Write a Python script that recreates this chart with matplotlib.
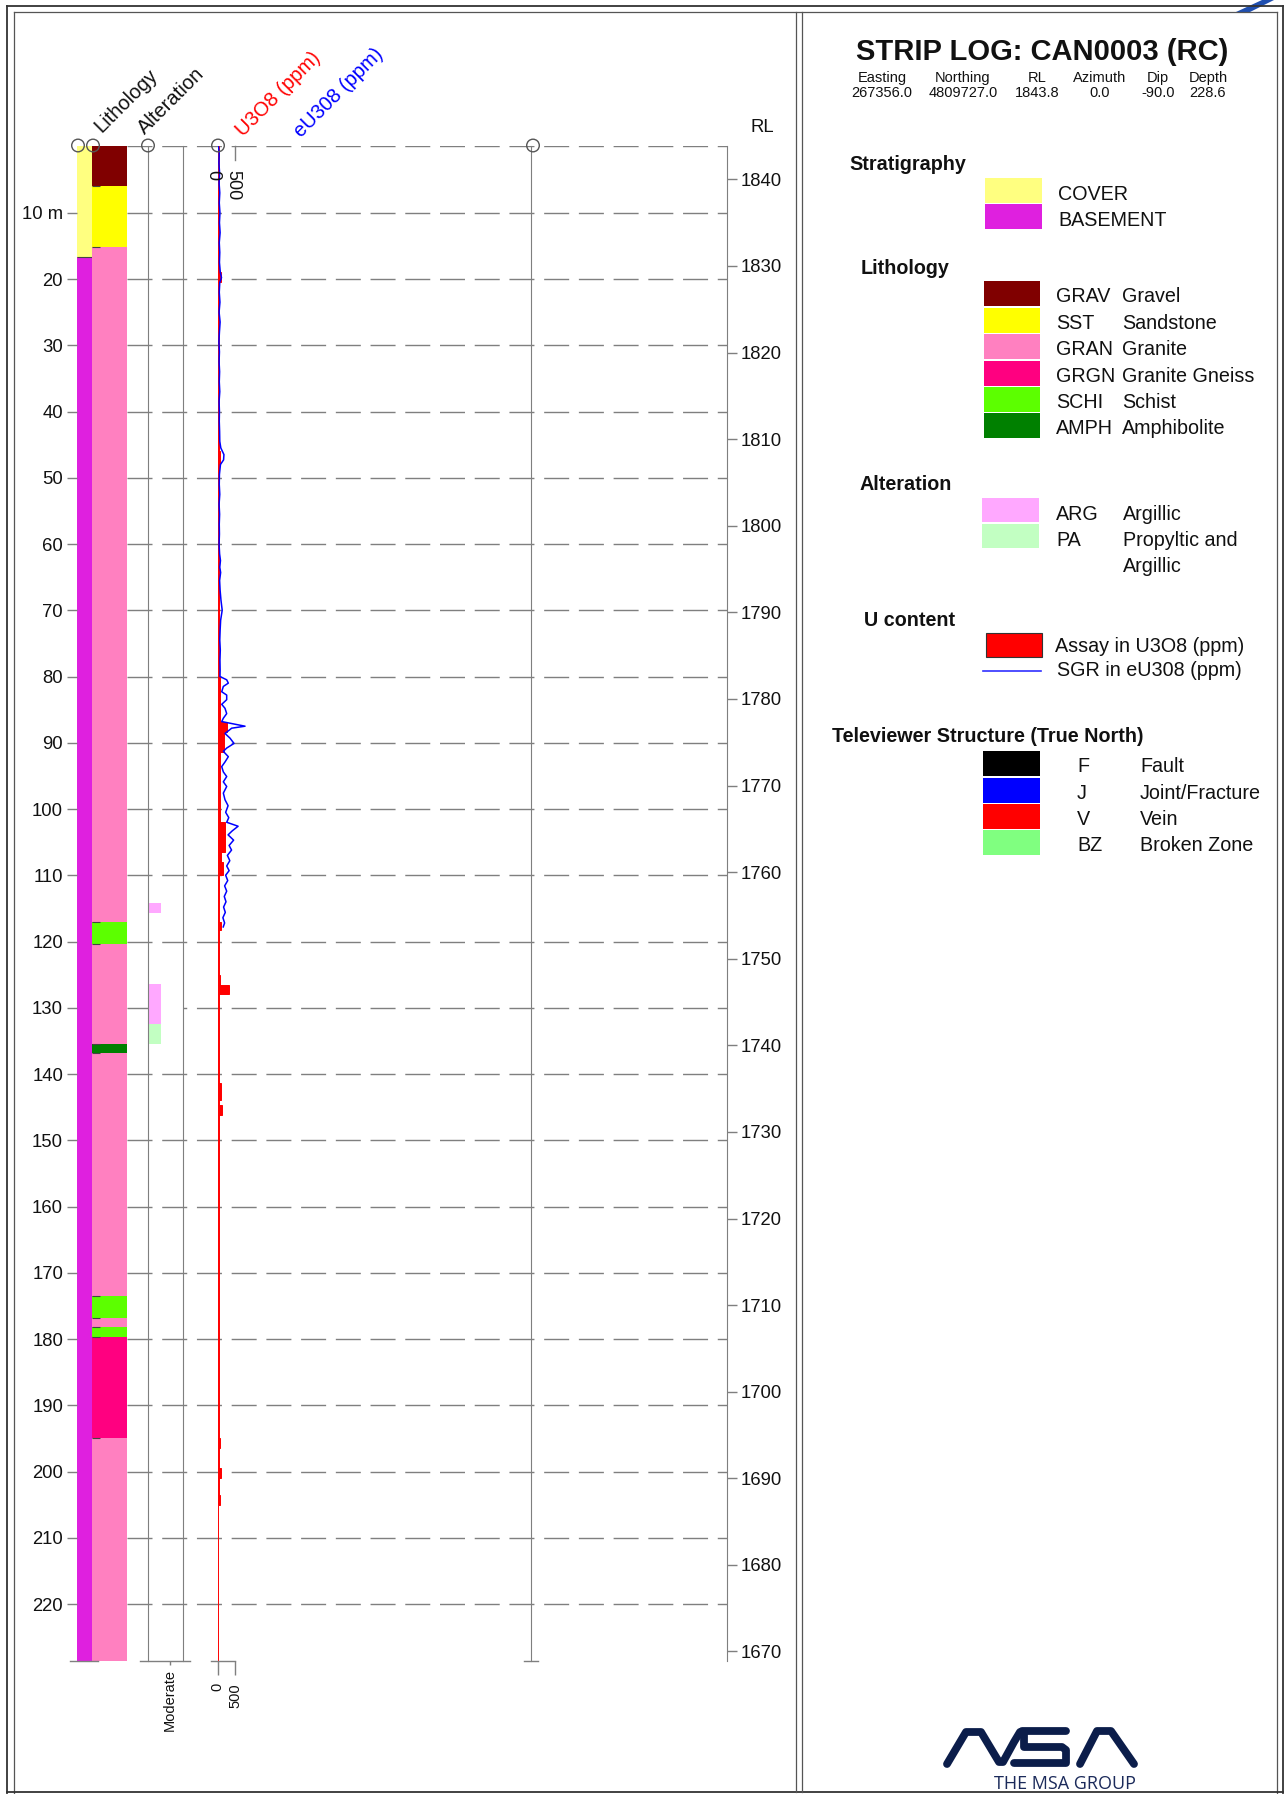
import matplotlib
matplotlib.use("Agg")
import matplotlib.pyplot as plt
from matplotlib.patches import Rectangle, Circle, Polygon

plt.rcParams['font.family'] = ['Liberation Sans', 'DejaVu Sans']

# figure size in pixels (dpi 100)
W, H = 1286, 1794
TOP_PX, BOT_PX = 146.5, 1661.0

# ---- collar info
hole_title = "STRIP LOG: CAN0003 (RC)"
collar_labels = ["Easting", "Northing", "RL", "Azimuth", "Dip", "Depth"]
collar_values = ["267356.0", "4809727.0", "1843.8", "0.0", "-90.0", "228.6"]
max_depth = 228.6
rl_top = 1843.8
rl_bottom = 1668.9

depth_ticks = [10, 20, 30, 40, 50, 60, 70, 80, 90, 100, 110, 120, 130, 140,
               150, 160, 170, 180, 190, 200, 210, 220]
depth_labels = ["10 m"] + [str(d) for d in depth_ticks[1:]]
grid_depths = [0] + depth_ticks
rl_ticks = [1840, 1830, 1820, 1810, 1800, 1790, 1780, 1770, 1760, 1750, 1740,
            1730, 1720, 1710, 1700, 1690, 1680, 1670]

# ---- stratigraphy
strat_from = [0.0, 16.7]
strat_to = [16.7, 228.6]
strat_code = ["COVER", "BASEMENT"]

# ---- lithology
litho_from = [0.0, 6.0, 15.2, 117.1, 120.4, 135.4, 136.9, 173.5, 176.8, 178.2, 179.7, 195.0]
litho_to = [6.0, 15.2, 117.1, 120.4, 135.4, 136.9, 173.5, 176.8, 178.2, 179.7, 195.0, 228.6]
litho_code = ["GRAV", "SST", "GRAN", "SCHI", "GRAN", "AMPH", "GRAN", "SCHI",
              "GRAN", "SCHI", "GRGN", "GRAN"]

# ---- alteration (intensity)
alt_from = [114.2, 126.4, 132.4]
alt_to = [115.7, 132.4, 135.4]
alt_code = ["ARG", "ARG", "PA"]
alt_intensity = [1.2, 1.2, 1.2]

# ---- U3O8 assays (ppm)
u_from = [0, 19, 20.5, 45.9, 47.9, 80, 86.9, 88.4, 91.4, 101.9, 106.5, 108, 110,
          117, 118.3, 125, 126.6, 127.9, 141.4, 143.9, 144.7, 146.2, 195, 196.5,
          199.5, 201, 203.5, 205]
u_to = [19, 20.5, 45.9, 47.9, 80, 86.9, 88.4, 91.4, 101.9, 106.5, 108, 110, 117,
        118.3, 125, 126.6, 127.9, 141.4, 143.9, 144.7, 146.2, 195, 196.5, 199.5,
        201, 203.5, 205, 228.6]
u_ppm = [30, 90, 30, 70, 25, 70, 260, 190, 60, 200, 90, 150, 50, 100, 30, 60, 340,
         30, 90, 30, 110, 25, 80, 25, 100, 25, 70, 20]

# ---- SGR eU3O8 (ppm)
sgr_depth = [0, 1, 2.5, 4, 5.5, 7, 8.5, 10, 11.5, 13, 14.5, 16, 17.5, 19, 19.8, 20.5,
             22, 23.5, 25, 26.5, 28, 29.5, 31, 32.5, 34, 35.5, 37, 38.5, 40, 41.5,
             43, 44.5, 45.5, 46.5, 47.3, 48, 49.5, 51, 52.5, 54, 55.5, 57, 58.5, 60,
             61.5, 62.5, 63.5, 64.3, 65.5, 67, 68.5, 70, 71.5, 73, 74.5, 76, 77.5,
             79, 80, 80.5, 81, 81.5, 82.3, 82.8, 83.5, 84.2, 84.8, 85.6, 86.3, 86.8,
             87.2, 87.5, 87.8, 88.6, 89.3, 90.1, 90.8, 91.3, 92.1, 92.9, 93.6, 94.4,
             95.1, 95.9, 96.6, 97.6, 98.6, 99.5, 100.5, 101.3, 102.0, 102.6, 103.3,
             103.9, 104.7, 105.5, 106.2, 107.0, 107.8, 108.6, 109.3, 110.0, 110.8,
             111.6, 112.4, 113.2, 114.0, 114.8, 115.6, 116.4, 117.2, 117.8]
sgr_ppm = [20, 45, 35, 55, 40, 60, 45, 65, 50, 70, 45, 60, 50, 75, 110, 60,
           45, 65, 40, 70, 50, 35, 50, 40, 55, 45, 60, 40, 50, 45,
           55, 60, 90, 180, 170, 80, 50, 45, 60, 40, 55, 45, 50, 40,
           55, 80, 60, 85, 55, 70, 95, 130, 85, 70, 60, 75, 65,
           70, 66, 260, 307, 163, 116, 260, 260, 116, 211, 260, 163, 116,
           500, 790, 404, 211, 355, 471, 260, 163, 307, 211, 116, 163,
           260, 163, 260, 163, 211, 300, 230, 320, 260, 590, 420,
           300, 460, 330, 400, 280, 350, 260, 330, 230, 290,
           200, 260, 190, 240, 170, 220, 150, 200, 160]

strat_colors = {"COVER": "#FFFF80", "BASEMENT": "#DF20DF"}
litho_colors = {"GRAV": "#800000", "SST": "#FFFF00", "GRAN": "#FF80C0",
                "GRGN": "#FF0080", "SCHI": "#5CFF00", "AMPH": "#008000"}
alt_colors = {"ARG": "#FFA8FF", "PA": "#C2FFC2"}

GRAY = "#7f7f7f"
TXT = "#111111"

fig = plt.figure(figsize=(W / 100, H / 100), dpi=100)


def px_axes(x0, x1):
    return fig.add_axes([x0 / W, 1 - BOT_PX / H, (x1 - x0) / W, (BOT_PX - TOP_PX) / H])


def clean(ax):
    for s in ax.spines.values():
        s.set_visible(False)


# ---- dashed depth grid + RL axis
ax_g = px_axes(127, 727)
ax_g.set_zorder(1)
ax_g.set_xlim(0, 1)
ax_g.set_ylim(max_depth, 0)
ax_g.hlines(grid_depths, 0, 1, colors=GRAY, linestyles=(0, (18, 7)), lw=1.0)
clean(ax_g)
ax_g.spines['right'].set_visible(True)
ax_g.spines['right'].set_color(GRAY)
ax_g.set_xticks([])
ax_g.set_yticks([])

ax_rl = ax_g.twinx()
ax_rl.set_ylim(rl_bottom, rl_top)
clean(ax_rl)
ax_rl.set_yticks(rl_ticks, [str(r) for r in rl_ticks])
ax_rl.tick_params(axis='y', direction='out', length=7, width=1, color=GRAY,
                  labelsize=13.3, pad=3, labelcolor=TXT)
ax_rl.set_xticks([])

# ---- stratigraphy column
ax_s = px_axes(77, 92)
ax_s.set_zorder(2)
ax_s.barh(strat_from, 1, height=[t - f for f, t in zip(strat_from, strat_to)],
          align='edge', color=[strat_colors[c] for c in strat_code], lw=0)
ax_s.hlines(strat_from[1:], 0, 1, colors="#444444", lw=0.8)
ax_s.set_xlim(0, 1)
ax_s.set_ylim(max_depth, 0)
clean(ax_s)
ax_s.set_xticks([])
ax_s.set_yticks(depth_ticks, depth_labels)
ax_s.tick_params(axis='y', direction='out', length=7, width=1, color=GRAY,
                 labelsize=13.3, pad=3, labelcolor=TXT)

# ---- lithology column
ax_l = px_axes(92, 127)
ax_l.set_zorder(2)
ax_l.barh(litho_from, 1, height=[t - f for f, t in zip(litho_from, litho_to)],
          align='edge', color=[litho_colors[c] for c in litho_code], lw=0)
ax_l.hlines(litho_from[1:], 0, 0.22, colors="#444444", lw=0.8)
ax_l.set_xlim(0, 1)
ax_l.set_ylim(max_depth, 0)
clean(ax_l)
ax_l.set_xticks([])
ax_l.set_yticks([])

# ---- alteration column
ax_a = px_axes(148, 183)
ax_a.set_zorder(2)
ax_a.set_facecolor('none')
alt_h = [t - f for f, t in zip(alt_from, alt_to)]
ax_a.barh(alt_from, 3.2, height=alt_h, align='edge', color='white', lw=0)
ax_a.barh(alt_from, alt_intensity, height=alt_h, align='edge',
          color=[alt_colors[c] for c in alt_code], lw=0)
ax_a.set_xlim(0, 3.2)
ax_a.set_ylim(max_depth, 0)
clean(ax_a)
for side in ['left', 'right']:
    ax_a.spines[side].set_visible(True)
    ax_a.spines[side].set_color(GRAY)
ax_a.set_yticks([])
ax_a.set_xticks([2], ["Moderate"], rotation=90, fontsize=10.5)
ax_a.tick_params(axis='x', direction='out', length=3, width=1, color=GRAY, pad=3,
                 labelcolor=TXT)

# ---- U track
ax_u = px_axes(217.7, 531)
ax_u.set_zorder(3)
ax_u.set_facecolor('none')
ax_u.barh(u_from, u_ppm, height=[t - f for f, t in zip(u_from, u_to)],
          align='edge', color='#FF0000', edgecolor='#FF0000', lw=0.7)
ax_u.plot(sgr_ppm, sgr_depth, color='#0000FF', lw=1.1)
ax_u.set_xlim(0, 9055)
ax_u.set_ylim(max_depth, 0)
clean(ax_u)
ax_u.spines['right'].set_visible(True)
ax_u.spines['right'].set_color(GRAY)
ax_u.set_yticks([])
ax_u.set_xticks([0, 500], ["0", "500"], rotation=90, fontsize=10.5)
ax_u.tick_params(axis='x', direction='out', length=10, width=1, color=GRAY, pad=6,
                 labelcolor=TXT)
ax_u.plot([500, 500], [0, 2.1], color=GRAY, lw=1, clip_on=False)
ax_u.text(-140, 3.6, "0", rotation=270, ha='center', va='top', fontsize=13,
          color=TXT, clip_on=False)
ax_u.text(450, 3.6, "500", rotation=270, ha='center', va='top', fontsize=13,
          color=TXT, clip_on=False)

# ---- overlay in pixel coordinates: frame, headers, legend
ov = fig.add_axes([0, 0, 1, 1])
ov.set_zorder(10)
ov.set_xlim(0, W)
ov.set_ylim(H, 0)
ov.axis('off')

# frame
ov.plot([7, 7], [6, 1793], color='#333333', lw=1.3)
ov.plot([14, 14], [12, 1793], color='#555555', lw=0.9)
ov.plot([7, 1283], [6, 6], color='#333333', lw=1.3)
ov.plot([14, 1277], [12, 12], color='#555555', lw=0.9)
ov.plot([1277, 1277], [12, 1793], color='#555555', lw=0.9)
ov.plot([1283, 1283], [6, 1793], color='#333333', lw=1.3)
ov.plot([7, 1283], [1792, 1792], color='#333333', lw=1.3)
ov.plot([796, 796], [12, 1792], color='#555555', lw=0.9)
ov.plot([802, 802], [12, 1792], color='#555555', lw=0.9)

# partial logo at the top right corner
ov.add_patch(Polygon([(1236, 12), (1262, 0), (1274, 0), (1250, 12)], closed=True,
                     color='#1f4fb0', lw=0))

# track top circles and bottom lines
for cx in [78, 93, 148, 218, 533]:
    ov.add_patch(Circle((cx, 145.5), 6.3, fill=False, ec='#555555', lw=1))
for x0, x1 in [(70, 98), (140, 190), (211, 235), (524, 538)]:
    ov.plot([x0, x1], [1661, 1661], color=GRAY, lw=1)

# column headers
for txt, x, y, col in [("Lithology", 102, 133, TXT), ("Alteration", 145, 135, TXT),
                       ("U3O8 (ppm)", 243, 137, '#FF0000'),
                       ("eU308 (ppm)", 301, 138, '#0000FF')]:
    ov.text(x, y, txt, rotation=45, rotation_mode='anchor', ha='left',
            va='baseline', fontsize=14.5, color=col)
ov.text(762, 127, "RL", ha='center', va='center', fontsize=13.3, color=TXT)

# title block
ov.text(1042, 52, hole_title, ha='center', va='center', fontsize=21,
        fontweight='bold', color=TXT)
for lab, val, cx in zip(collar_labels, collar_values, [882, 963, 1037, 1100, 1158, 1208]):
    ov.text(cx, 78, lab, ha='center', va='center', fontsize=10.5, color=TXT)
    ov.text(cx, 93, val, ha='center', va='center', fontsize=10.5, color=TXT)


def swatch(x0, x1, y0, y1, color, ec='none'):
    ov.add_patch(Rectangle((x0, y0), x1 - x0, y1 - y0, facecolor=color,
                           edgecolor=ec, lw=0.8))


LFS = 14.2
HFS = 14.2
DY = 3  # text offset so caps sit centred on the swatches

# stratigraphy legend
ov.text(849, 162 + DY, "Stratigraphy", ha='left', va='center', fontsize=HFS,
        fontweight='bold', color=TXT)
for i, code in enumerate(["COVER", "BASEMENT"]):
    yc = 191 + i * 26
    swatch(985, 1042, yc - 12.5, yc + 12, strat_colors[code])
    ov.text(1058, yc + DY, code, ha='left', va='center', fontsize=LFS, color=TXT)

# lithology legend
ov.text(861, 265 + DY, "Lithology", ha='left', va='center', fontsize=HFS,
        fontweight='bold', color=TXT)
litho_names = [("GRAV", "Gravel"), ("SST", "Sandstone"), ("GRAN", "Granite"),
               ("GRGN", "Granite Gneiss"), ("SCHI", "Schist"), ("AMPH", "Amphibolite")]
for i, (code, name) in enumerate(litho_names):
    yc = 294 + i * 26.4
    swatch(984, 1040, yc - 12.5, yc + 12.5, litho_colors[code])
    ov.text(1056, yc + DY, code, ha='left', va='center', fontsize=LFS, color=TXT)
    ov.text(1122, yc + DY, name, ha='left', va='center', fontsize=LFS, color=TXT)

# alteration legend
ov.text(859, 482 + DY, "Alteration", ha='left', va='center', fontsize=HFS,
        fontweight='bold', color=TXT)
swatch(982, 1039, 498, 522, alt_colors["ARG"])
swatch(982, 1039, 524, 548, alt_colors["PA"])
ov.text(1056, 512 + DY, "ARG", ha='left', va='center', fontsize=LFS, color=TXT)
ov.text(1123, 512 + DY, "Argillic", ha='left', va='center', fontsize=LFS, color=TXT)
ov.text(1056, 538 + DY, "PA", ha='left', va='center', fontsize=LFS, color=TXT)
ov.text(1123, 538 + DY, "Propyltic and", ha='left', va='center', fontsize=LFS, color=TXT)
ov.text(1123, 564 + DY, "Argillic", ha='left', va='center', fontsize=LFS, color=TXT)

# U content legend
ov.text(864, 617 + DY, "U content", ha='left', va='center', fontsize=HFS,
        fontweight='bold', color=TXT)
swatch(986, 1042, 633, 657, '#FF0000', ec='#333333')
ov.text(1055, 643 + DY, "Assay in U3O8 (ppm)", ha='left', va='center', fontsize=LFS, color=TXT)
ov.plot([983, 1041], [671, 671], color='#3030FF', lw=1.2)
ov.text(1057, 667 + DY, "SGR in eU308 (ppm)", ha='left', va='center', fontsize=LFS, color=TXT)

# televiewer legend
ov.text(832, 733 + DY, "Televiewer Structure (True North)", ha='left', va='center',
        fontsize=HFS, fontweight='bold', color=TXT)
tv_items = [("F", "Fault", "#000000"), ("J", "Joint/Fracture", "#0000FF"),
            ("V", "Vein", "#FF0000"), ("BZ", "Broken Zone", "#80FF80")]
for i, (code, name, col) in enumerate(tv_items):
    yc = 764 + i * 26.2
    swatch(983, 1040, yc - 12.5, yc + 12.5, col)
    ov.text(1077, yc + DY, code, ha='left', va='center', fontsize=LFS, color=TXT)
    ov.text(1140, yc + DY, name, ha='left', va='center', fontsize=LFS, color=TXT)

# MSA logo
NAVY = '#0b1d4a'
logo_kw = dict(color=NAVY, lw=5.6, solid_capstyle='round', solid_joinstyle='round')
ov.plot([947, 966, 981, 999, 1003, 1014, 1020], [1764, 1732, 1732, 1762, 1762, 1742, 1732], **logo_kw)
ov.plot([1022, 1066], [1731, 1731], **logo_kw)
ov.plot([1024, 1024, 1062, 1066, 1066, 1014], [1732, 1747, 1747, 1750, 1763, 1763], **logo_kw)
ov.plot([1080, 1097, 1111, 1134], [1764, 1731, 1731, 1764], **logo_kw)
ov.text(1065, 1784, "THE MSA GROUP", ha='center', va='center', fontsize=13,
        family=['Open Sans', 'DejaVu Sans'], color='#1b2a5a')

fig.savefig("out.png", dpi=100)
